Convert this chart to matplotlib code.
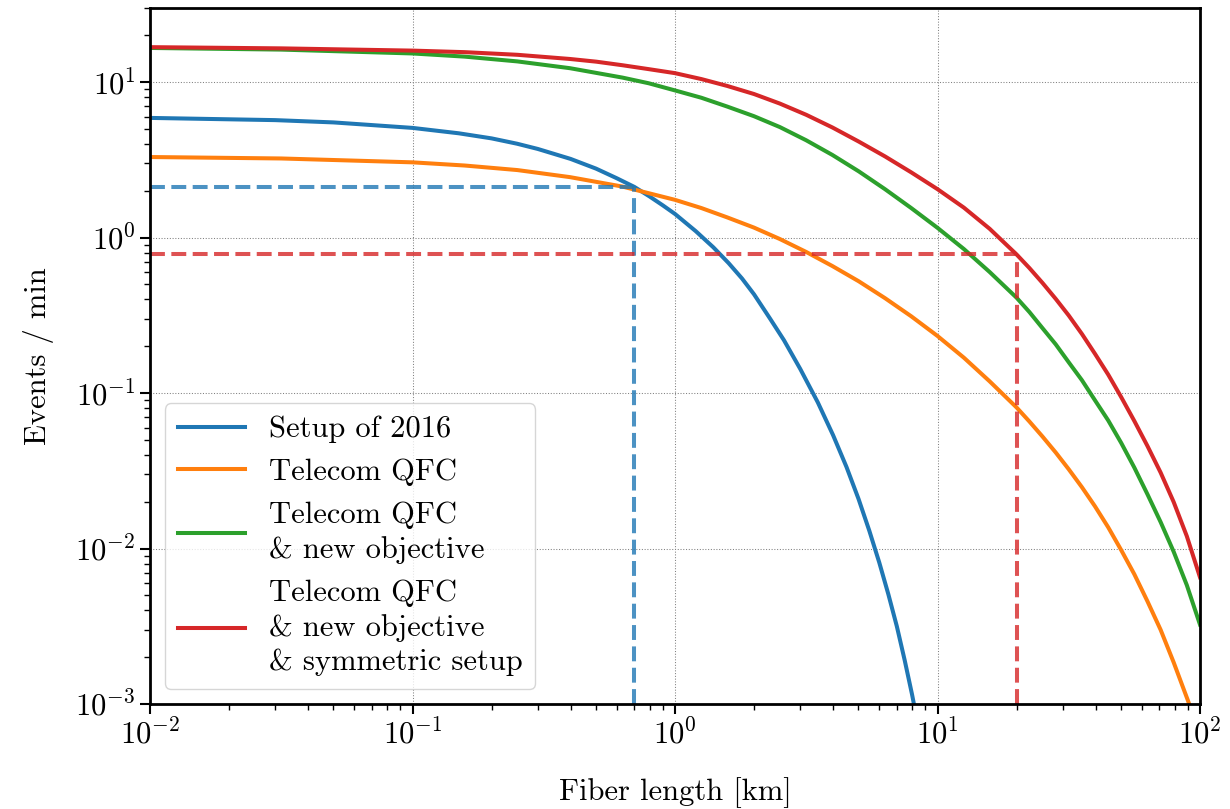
import matplotlib
matplotlib.use('Agg')
import matplotlib.pyplot as plt

# Expected event rate vs. fiber length for the different setup upgrades.
# fiber length in km, rate in events per minute

length_2016 = [0.01, 0.03, 0.05, 0.1, 0.15, 0.2, 0.25, 0.3, 0.4, 0.5, 0.6, 0.7,
               0.8, 0.9, 1.0, 1.2, 1.4, 1.6, 1.8, 2.0, 2.3, 2.6, 3.0, 3.5, 4.0,
               4.5, 5.0, 5.5, 6.0, 6.5, 7.0, 7.5, 8.0, 8.2]
rate_2016 = [5.89, 5.70, 5.51, 5.08, 4.69, 4.35, 4.02, 3.72, 3.21, 2.78, 2.41,
             2.12, 1.84, 1.61, 1.42, 1.10, 0.866, 0.686, 0.546, 0.432, 0.302,
             0.219, 0.143, 0.0871, 0.0537, 0.0335, 0.0209, 0.0130, 0.00813,
             0.00507, 0.00316, 0.00191, 0.00115, 0.00093]

length_qfc = [0.01, 0.0316, 0.1, 0.158, 0.251, 0.398, 0.631, 1.0, 1.26, 1.58,
              2.0, 2.51, 3.16, 3.98, 5.01, 6.31, 7.94, 10, 12.6, 15.8, 20,
              22.4, 25.1, 28.2, 31.6, 35.5, 39.8, 44.7, 50.1, 56.2, 63.1, 70.8,
              79.4, 90, 95]
rate_qfc = [3.30, 3.23, 3.05, 2.91, 2.72, 2.45, 2.13, 1.75, 1.55, 1.35, 1.16,
            0.979, 0.809, 0.656, 0.524, 0.408, 0.312, 0.233, 0.169, 0.119,
            0.0809, 0.0656, 0.0526, 0.0415, 0.0324, 0.0248, 0.0187, 0.0137,
            0.00977, 0.00684, 0.00457, 0.0030, 0.00185, 0.00105, 0.00081]

length_obj = [0.01, 0.0316, 0.1, 0.158, 0.251, 0.398, 0.631, 0.794, 1.0, 1.26,
              1.58, 2.0, 2.51, 3.16, 3.98, 5.01, 6.31, 7.94, 10, 12.6, 15.8,
              20, 22.4, 25.1, 28.2, 31.6, 35.5, 39.8, 44.7, 50.1, 56.2, 63.1,
              70.8, 79.4, 89.1, 100]
rate_obj = [16.6, 16.2, 15.3, 14.6, 13.6, 12.3, 10.7, 9.84, 8.85, 7.94, 6.97,
            6.04, 5.14, 4.23, 3.40, 2.67, 2.05, 1.55, 1.156, 0.845, 0.601,
            0.411, 0.332, 0.262, 0.206, 0.158, 0.121, 0.0899, 0.0667, 0.0478,
            0.0332, 0.0223, 0.0148, 0.00953, 0.00581, 0.00324]

length_sym = [0.01, 0.0316, 0.1, 0.158, 0.251, 0.398, 0.501, 0.631, 0.794, 1.0,
              1.26, 1.58, 2.0, 2.51, 3.16, 3.98, 5.01, 6.31, 7.94, 10, 12.6,
              15.8, 20, 22.4, 25.1, 28.2, 31.6, 35.5, 39.8, 44.7, 50.1, 56.2,
              63.1, 70.8, 79.4, 89.1, 100]
rate_sym = [16.8, 16.5, 15.96, 15.6, 15.0, 14.1, 13.55, 12.85, 12.13, 11.43,
            10.47, 9.46, 8.39, 7.28, 6.17, 5.11, 4.15, 3.33, 2.63, 2.05, 1.56,
            1.14, 0.78, 0.637, 0.512, 0.404, 0.316, 0.240, 0.179, 0.1315,
            0.0942, 0.0662, 0.0456, 0.0308, 0.0199, 0.0120, 0.00653]

labels = ['Setup of 2016',
          'Telecom QFC',
          'Telecom QFC\n& new objective',
          'Telecom QFC\n& new objective\n& symmetric setup']

# operating points marked with dashed guide lines
mark_length = [0.7, 20]
mark_rate = [2.13, 0.78]
mark_color = ['C0', 'C3']

plt.rcParams.update({
    'font.family': 'serif',
    'font.serif': ['cmr10'],
    'mathtext.fontset': 'cm',
    'axes.formatter.use_mathtext': True,
    'font.size': 22,
})

fig = plt.figure(figsize=(12.3, 8.09), dpi=100)
ax = fig.add_axes([150 / 1230, 1 - 704 / 809, 1050 / 1230, 696 / 809])

lw = 2.9
curves = [(length_2016, rate_2016), (length_qfc, rate_qfc),
          (length_obj, rate_obj), (length_sym, rate_sym)]
for i, (x, y) in enumerate(curves):
    ax.plot(x, y, color='C%d' % i, lw=lw, label=labels[i])

ax.set_xscale('log')
ax.set_yscale('log')
xmin, xmax = 1e-2, 1e2
ymin, ymax = 1e-3, 30
ax.set_xlim(xmin, xmax)
ax.set_ylim(ymin, ymax)

for L, r, c in zip(mark_length, mark_rate, mark_color):
    ax.plot([xmin, L], [r, r], '--', color=c, lw=lw, alpha=0.8)
    ax.plot([L, L], [ymin, r], '--', color=c, lw=lw, alpha=0.8)

ax.grid(True, which='major', ls=':', color='gray', lw=0.75)
ax.tick_params(which='major', length=7, width=1.5)
ax.tick_params(which='minor', length=4, width=1.0)
for s in ax.spines.values():
    s.set_linewidth(2)

ax.set_xlabel('Fiber length [km]', labelpad=20)
ax.set_ylabel('Events / min', labelpad=15)
leg = ax.legend(loc='lower left', handlelength=2.2)
for t in leg.get_texts():
    t.set_linespacing(1.33)

fig.savefig('out.png', dpi=100)
